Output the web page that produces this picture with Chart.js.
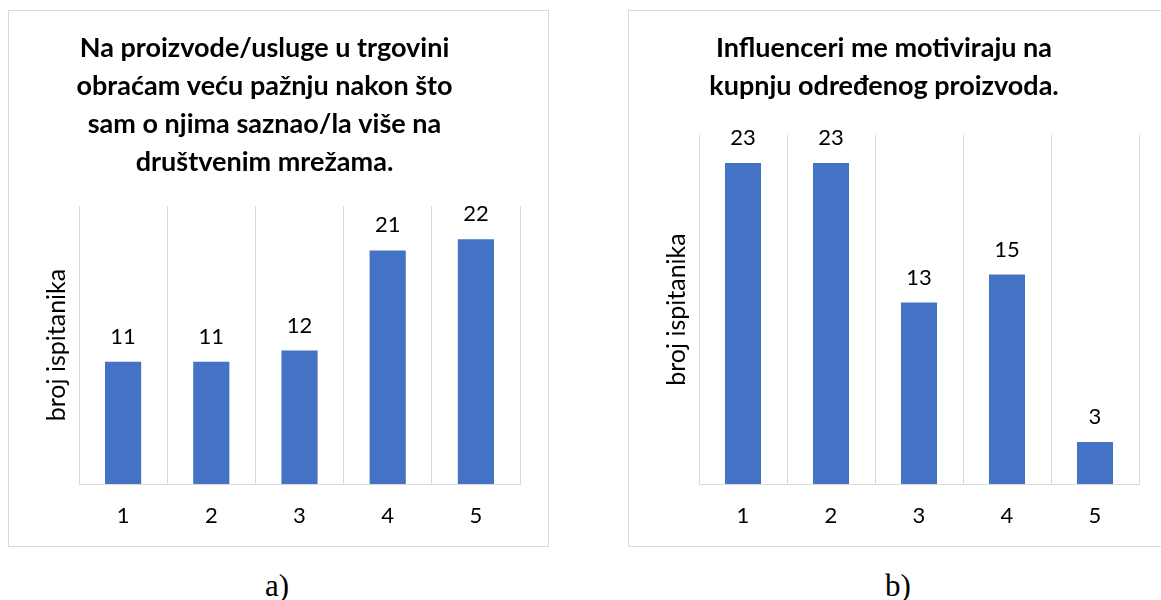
<!DOCTYPE html>
<html>
<head>
<meta charset="utf-8">
<script src="https://cdn.jsdelivr.net/npm/chart.js@4/dist/chart.umd.min.js"></script>
<style>
  html, body { margin: 0; padding: 0; background: #fff; overflow: hidden; }
  body { width: 1161px; height: 600px; position: relative; }
  .panel { position: absolute; border: 1px solid #d9d9d9; box-sizing: border-box; background: #fff; }
  .panel canvas { display: block; }
  .caption { position: absolute; font-family: "Liberation Serif", serif; font-size: 31px; color: #000; line-height: 1; }
</style>
</head>
<body>
<div class="panel" style="left:8px; top:10px; width:541px; height:537px;">
  <canvas id="chartA" width="539" height="535"></canvas>
</div>
<div class="panel" style="left:628px; top:10px; width:544px; height:537px;">
  <canvas id="chartB" width="542" height="535"></canvas>
</div>
<div class="caption" style="left:265px; top:570px;">a)</div>
<div class="caption" style="left:885px; top:570px;">b)</div>

<script>
// Data
const categories = ['1', '2', '3', '4', '5'];
const valuesA = [11, 11, 12, 21, 22];
const valuesB = [23, 23, 13, 15, 3];
const titleA = ['Na proizvode/usluge u trgovini', 'obraćam veću pažnju nakon što', 'sam o njima saznao/la više na', 'društvenim mrežama.'];
const titleB = ['Influenceri me motiviraju na', 'kupnju određenog proizvoda.'];
const yAxisTitle = 'broj ispitanika';

const FONT = 'Lato, "Open Sans", sans-serif';
const BAR_COLOR = '#4472C4';
const GRID_COLOR = '#d9d9d9';

// draws the number above every bar
const valueLabels = {
    id: 'valueLabels',
    afterDatasetsDraw(chart) {
        const ctx = chart.ctx;
        const meta = chart.getDatasetMeta(0);
        const data = chart.data.datasets[0].data;
        ctx.save();
        ctx.font = '22px ' + FONT;
        ctx.fillStyle = '#000';
        ctx.textAlign = 'center';
        ctx.textBaseline = 'alphabetic';
        meta.data.forEach((bar, i) => {
            ctx.fillText(String(data[i]), bar.x, bar.y - 18);
        });
        ctx.restore();
    }
};

function makeChart(id, values, title, titleBottom) {
    const ctx = document.getElementById(id).getContext('2d');
    return new Chart(ctx, {
        type: 'bar',
        data: {
            labels: categories,
            datasets: [{
                data: values,
                backgroundColor: BAR_COLOR,
                borderWidth: 0,
                barPercentage: 0.41,
                categoryPercentage: 1
            }]
        },
        options: {
            responsive: false,
            animation: false,
            layout: { padding: { left: 0, right: id === 'chartA' ? 28 : 32, top: 0, bottom: 0 } },
            plugins: {
                legend: { display: false },
                tooltip: { enabled: false },
                title: {
                    display: true,
                    text: title,
                    color: '#000',
                    font: { family: FONT, size: 27, weight: 'bold', lineHeight: '38px' },
                    padding: { top: 18, bottom: titleBottom }
                }
            },
            scales: {
                x: {
                    grid: { color: GRID_COLOR, lineWidth: 1, drawTicks: false, offset: true },
                    border: { display: true, color: GRID_COLOR, width: 1 },
                    ticks: { color: '#000', font: { family: FONT, size: 22 }, padding: 19 },
                    afterFit: (scale) => { scale.height = 62; }
                },
                y: {
                    min: 0,
                    max: 25,
                    grid: { display: false },
                    border: { display: false },
                    ticks: { display: false },
                    title: {
                        display: true,
                        text: yAxisTitle,
                        color: '#000',
                        font: { family: FONT, size: 25 },
                        padding: { top: 33, bottom: 0 }
                    },
                    afterFit: (scale) => { scale.width = 70; }
                }
            }
        },
        plugins: [valueLabels]
    });
}

makeChart('chartA', valuesA, titleA, 25);
makeChart('chartB', valuesB, titleB, 30);
</script>
</body>
</html>
